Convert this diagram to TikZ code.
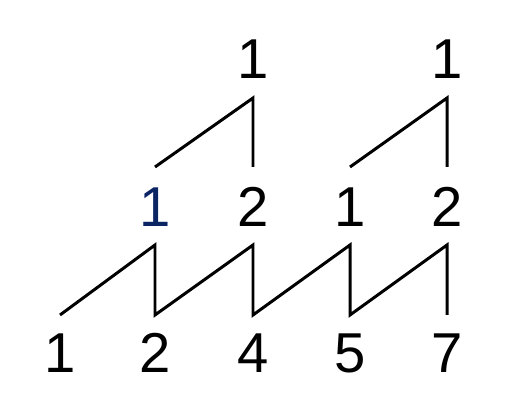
\documentclass[tikz,border=0pt]{standalone}
\usepackage{fontspec}
\setmainfont{Liberation Sans}
\usepackage{tikz}

\definecolor{Navy}{RGB}{10,36,100}

\begin{document}
\begin{tikzpicture}
\useasboundingbox (0,0) rectangle (10.14,8.18);

\node (A) at (1.2, 1.12) [font=\fontsize{32}{0}\selectfont] {1};
\node (B) at (3.1, 1.12) [font=\fontsize{32}{0}\selectfont] {2};
\node (C) at (5.06, 1.12) [font=\fontsize{32}{0}\selectfont] {4};
\node (D) at (7.0, 1.12) [font=\fontsize{32}{0}\selectfont] {5};
\node (E) at (8.94, 1.12) [font=\fontsize{32}{0}\selectfont] {7};

\node (F) at (3.1, 4.04) [Navy, font=\fontsize{32}{0}\selectfont] {1};
\node (G) at (5.06, 4.04) [font=\fontsize{32}{0}\selectfont] {2};
\node (H) at (7.0, 4.04) [font=\fontsize{32}{0}\selectfont] {1};
\node (I) at (8.94, 4.04) [font=\fontsize{32}{0}\selectfont] {2};

\node (J) at (5.06, 7.0) [font=\fontsize{32}{0}\selectfont] {1};
\node (K) at (8.94, 7.0) [font=\fontsize{32}{0}\selectfont] {1};

\coordinate (a) at (1.2, 1.88);
\coordinate (b) at (3.1, 1.88);
\coordinate (c) at (5.06, 1.88);
\coordinate (d) at (7.0, 1.88);
\coordinate (e) at (8.94, 1.88);
\coordinate (f) at (3.1, 3.28);
\coordinate (g) at (5.06, 3.28);
\coordinate (h) at (7.0, 3.28);
\coordinate (i) at (8.94, 3.28);

\coordinate (p) at (3.1, 4.84);
\coordinate (q) at (5.06, 4.84);
\coordinate (r) at (7.0, 4.84);
\coordinate (s) at (8.94, 4.84);
\coordinate (t) at (5.06, 6.22);
\coordinate (u) at (8.94, 6.22);

\draw[line width=1.7pt] (a)--(f)--(b)--(g)--(c)--(h)--(d)--(i)--(e);
\draw[line width=1.7pt] (p)--(t)--(q) (r)--(u)--(s);

\end{tikzpicture}
\end{document}
